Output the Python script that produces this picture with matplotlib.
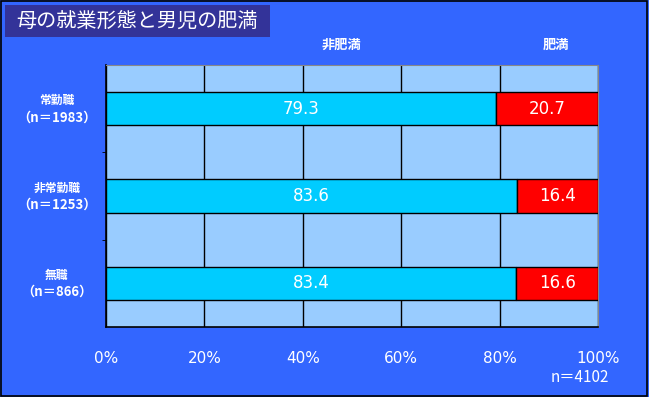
import matplotlib
matplotlib.use("Agg")
import matplotlib.pyplot as plt
from matplotlib.patches import Rectangle
import numpy as np

plt.rcParams['font.family'] = ['Noto Sans CJK JP', 'DejaVu Sans']

# データ
categories = ["常勤職", "非常勤職", "無職"]
counts = ["（n＝1983）", "（n＝1253）", "（n＝866）"]
non_obese = [79.3, 83.6, 83.4]
obese = [20.7, 16.4, 16.6]
xticks = [0, 20, 40, 60, 80, 100]
title = "母の就業形態と男児の肥満"
total_n = "n＝4102"

bg = "#3366FF"
fig = plt.figure(figsize=(6.49, 3.97), dpi=100, facecolor=bg)
fig.patches.append(Rectangle((0.002, 0.003), 0.995, 0.994, transform=fig.transFigure,
                             fill=False, edgecolor="black", linewidth=1.2))
# タイトルの箱
fig.patches.append(Rectangle((5/649, 1-37/397), 265/649, 32/397, transform=fig.transFigure,
                             facecolor="#333399", edgecolor="none"))
fig.text(137/649, 1-21/397, title, color="white", fontsize=14.5, va="center", ha="center")

ax = fig.add_axes([106/649, 1-327/397, 492/649, 262/397])
ax.set_facecolor("#99CCFF")

y = np.arange(len(categories))
ax.barh(y, non_obese, height=0.38, color="#00CCFF", edgecolor="black", linewidth=1, zorder=3)
ax.barh(y, obese, left=non_obese, height=0.38, color="#FF0000", edgecolor="black", linewidth=1, zorder=3)

for i in range(len(categories)):
    ax.text(non_obese[i]/2, y[i], f"{non_obese[i]:.1f}", color="white", fontsize=12,
            ha="center", va="center", zorder=4, family="DejaVu Sans")
    ax.text(non_obese[i] + obese[i]/2, y[i], f"{obese[i]:.1f}", color="white", fontsize=12,
            ha="center", va="center", zorder=4, family="DejaVu Sans")
    ax.text(-10, y[i] - 0.09, categories[i], color="white", fontsize=8.5, fontweight="bold",
            ha="center", va="center")
    ax.text(-10, y[i] + 0.10, counts[i], color="white", fontsize=9.5, fontweight="bold",
            ha="center", va="center")

ax.set_xlim(0, 100)
ax.set_ylim(2.5, -0.5)
ax.set_xticks(xticks)
ax.set_xticklabels([f"{t}%" for t in xticks], color="white", fontsize=11, family="DejaVu Sans")
ax.tick_params(axis="x", length=0, pad=17)
ax.set_yticks([])
ax.set_yticks([0.5, 1.5], minor=True)
ax.tick_params(axis="y", which="minor", length=3, direction="out", color="black")
ax.grid(axis="x", color="black", linewidth=1, zorder=1)
ax.set_axisbelow(True)
for s in ["left", "bottom"]:
    ax.spines[s].set_color("black")
    ax.spines[s].set_linewidth(1.2)
for s in ["top", "right"]:
    ax.spines[s].set_color("#888888")

fig.text(342/649, 1-45/397, "非肥満", color="white", fontsize=9.5, fontweight="bold", ha="center", va="center")
fig.text(556/649, 1-45/397, "肥満", color="white", fontsize=9.5, fontweight="bold", ha="center", va="center")
fig.text(580/649, 1-377/397, total_n, color="white", fontsize=11, ha="center", va="center")

fig.savefig("out.png", dpi=100, facecolor=bg)
